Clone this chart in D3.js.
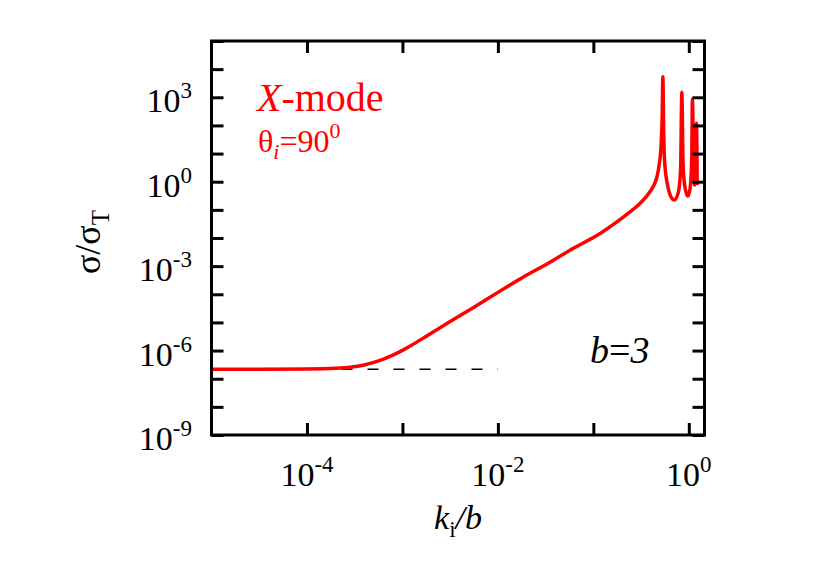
<!DOCTYPE html>
<html>
<head>
<meta charset="utf-8">
<script src="https://cdn.jsdelivr.net/npm/d3@7"></script>
<style>
  body { margin: 0; background: #fff; }
  svg { display: block; }
  text { font-family: "Liberation Serif", "Times New Roman", serif; }
</style>
</head>
<body>
<div id="container"></div>
<script>
// data
const kVals = [1e-5, 3.16e-5, 1e-4, 2.0e-4, 2.84e-4, 3.98e-4, 5.01e-4, 6.34e-4, 7.94e-4,
  1e-3, 1.26e-3, 1.78e-3, 3.16e-3, 5.62e-3, 1e-2, 1.78e-2, 3.55e-2, 6.31e-2, 0.119, 0.178,
  0.240, 0.302, 0.355, 0.398, 0.437, 0.462, 0.496, 0.513, 0.525, 0.535, 0.545, 0.557, 0.593,
  0.637, 0.702, 0.773, 0.820, 0.845, 0.871, 0.914, 0.977, 1.033, 1.072, 1.091, 1.119, 1.151,
  1.180, 1.202, 1.225];
const sigmaVals = [2.16e-7, 2.17e-7, 2.21e-7, 2.34e-7, 2.55e-7, 3.09e-7, 3.80e-7, 5.01e-7,
  6.92e-7, 1.02e-6, 1.58e-6, 3.24e-6, 1.07e-5, 3.47e-5, 1.17e-4, 3.80e-4, 1.41e-3, 4.47e-3,
  1.48e-2, 3.80e-2, 8.32e-2, 0.158, 0.282, 0.479, 0.832, 1.41, 5.62, 20.0, 158, 5370, 69.2,
  5.89, 0.902, 0.339, 0.224, 0.398, 2.63, 1510, 3.98, 0.603, 0.309, 0.603, 5.89, 871, 5.89,
  0.759, 2.63, 120, 0.759];
// low-energy limit (dashed)
const dashK = [1e-5, 1e-2];
const dashSigma = [2.16e-7, 2.16e-7];

const xTicks = [1e-4, 1e-3, 1e-2, 1e-1, 1];
const xLabels = [[1e-4, "-4"], [1e-2, "-2"], [1, "0"]];
const yTicks = [1e-9, 1e-8, 1e-7, 1e-6, 1e-5, 1e-4, 1e-3, 1e-2, 1e-1, 1, 10, 100, 1e3, 1e4, 1e5];
const yLabels = [[1e-9, "-9"], [1e-6, "-6"], [1e-3, "-3"], [1, "0"], [1e3, "3"]];

const w = 830;
const h = 581;
const pLeft = 211.5, pRight = 704.5, pTop = 41, pBottom = 435;

const x = d3.scaleLog().domain([1e-5, 1.46]).range([pLeft, pRight]);
const y = d3.scaleLog().domain([1e-9, 1e5]).range([pBottom, pTop]);

const svg = d3.select("#container").append("svg")
  .attr("width", w).attr("height", h);

// curve
const line = d3.line()
  .x((d) => x(d[0]))
  .y((d) => y(d[1]))
  .curve(d3.curveMonotoneX);

svg.append("path")
  .datum(d3.zip(dashK, dashSigma))
  .attr("d", line)
  .attr("fill", "none")
  .attr("stroke", "#000")
  .attr("stroke-width", 1.6)
  .attr("stroke-dasharray", "11,15");

svg.append("path")
  .datum(d3.zip(kVals, sigmaVals))
  .attr("d", line)
  .attr("fill", "none")
  .attr("stroke", "#ff0000")
  .attr("stroke-width", 3.5)
  .attr("stroke-linejoin", "round");

// axes, ticks pointing inward on all four sides
const tickLen = 12;
const styleAxis = (g) => {
  g.select(".domain").remove();
  g.selectAll(".tick line").attr("stroke", "#000").attr("stroke-width", 3);
  g.selectAll(".tick text").remove();
};
svg.append("g").attr("transform", `translate(0,${pBottom})`)
  .call(d3.axisBottom(x).tickValues(xTicks).tickSize(-tickLen)).call(styleAxis);
svg.append("g").attr("transform", `translate(0,${pTop})`)
  .call(d3.axisTop(x).tickValues(xTicks).tickSize(-tickLen)).call(styleAxis);
svg.append("g").attr("transform", `translate(${pLeft},0)`)
  .call(d3.axisLeft(y).tickValues(yTicks).tickSize(-tickLen)).call(styleAxis);
svg.append("g").attr("transform", `translate(${pRight},0)`)
  .call(d3.axisRight(y).tickValues(yTicks).tickSize(-tickLen)).call(styleAxis);

svg.append("rect")
  .attr("x", pLeft).attr("y", pTop)
  .attr("width", pRight - pLeft).attr("height", pBottom - pTop)
  .attr("fill", "none").attr("stroke", "#000").attr("stroke-width", 3);

// tick labels
const pow = (sel, exp) => {
  sel.append("tspan").text("10");
  sel.append("tspan").attr("font-size", 23).attr("dy", -14).text(exp);
};
xLabels.forEach(([v, e]) => {
  svg.append("text").attr("x", x(v)).attr("y", 486)
    .attr("text-anchor", "middle").attr("font-size", 34).call(pow, e);
});
yLabels.forEach(([v, e]) => {
  svg.append("text").attr("x", 192).attr("y", y(v) + 15)
    .attr("text-anchor", "end").attr("font-size", 34).call(pow, e);
});

// axis titles
const xt = svg.append("text").attr("x", 458).attr("y", 529)
  .attr("text-anchor", "middle").attr("font-size", 34);
xt.append("tspan").attr("font-style", "italic").text("k");
xt.append("tspan").attr("font-size", 23).attr("dy", 8).text("i");
xt.append("tspan").attr("dy", -8).attr("font-style", "italic").text("/b");

const yt = svg.append("text").attr("transform", "translate(100,242) rotate(-90)")
  .attr("text-anchor", "middle").attr("font-size", 36);
yt.append("tspan").text("σ/σ");
yt.append("tspan").attr("font-size", 25).attr("dy", 9).text("T");

// annotations
const mode = svg.append("text").attr("x", 257).attr("y", 111)
  .attr("font-size", 40).attr("fill", "#ff0000");
mode.append("tspan").attr("font-style", "italic").text("X");
mode.append("tspan").text("-mode");

const theta = svg.append("text").attr("x", 258).attr("y", 152)
  .attr("font-size", 32).attr("fill", "#ff0000");
theta.append("tspan").text("θ");
theta.append("tspan").attr("font-size", 22).attr("dy", 7).attr("font-style", "italic").text("i");
theta.append("tspan").attr("dy", -7).text("=90");
theta.append("tspan").attr("font-size", 22).attr("dy", -14).text("0");

const bt = svg.append("text").attr("x", 590).attr("y", 363).attr("font-size", 38)
  .attr("font-style", "italic");
bt.append("tspan").text("b");
bt.append("tspan").attr("font-style", "normal").text("=");
bt.append("tspan").text("3");
</script>
</body>
</html>
